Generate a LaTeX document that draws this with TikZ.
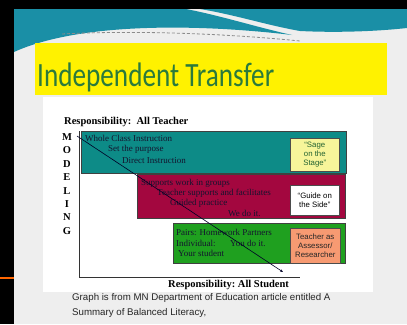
\documentclass[tikz,border=0pt]{standalone}
\usepackage{fontspec}
\setmainfont{Liberation Serif}
\setsansfont{Liberation Sans}
\newfontfamily\calibrifont{Carlito}
\usetikzlibrary{arrows.meta}

\definecolor{slidebg}{HTML}{EEEEEE}
\definecolor{header}{HTML}{1A8FA6}
\definecolor{titlegreen}{HTML}{2A7A3C}
\definecolor{tealbox}{HTML}{0D8B87}
\definecolor{maroonbox}{HTML}{A3073F}
\definecolor{greenbox}{HTML}{1FA01F}
\definecolor{sagebox}{HTML}{F7F59A}
\definecolor{salmonbox}{HTML}{F79A72}
\definecolor{inktext}{HTML}{14142E}

\tikzset{
  band/.style={draw=black!75, line width=0.7pt, anchor=north west, inner sep=0pt},
  rolebox/.style={draw=black!70, line width=0.6pt, anchor=north west, inner sep=0pt,
    font=\sffamily\fontsize{7.8}{9.2}\selectfont, align=center},
  bandtext/.style={anchor=west, inner sep=0pt, text=inktext,
    font=\fontsize{9}{9}\selectfont},
  axislabel/.style={inner sep=0pt, font=\bfseries\fontsize{10.5}{10.5}\selectfont},
  vletter/.style={inner sep=0pt, font=\bfseries\fontsize{10.5}{10.5}\selectfont},
  caption/.style={anchor=west, inner sep=0pt, text=black!85,
    font=\sffamily\fontsize{9.7}{9.7}\selectfont},
}

\begin{document}
\begin{tikzpicture}[x=1pt, y=-1pt]
\useasboundingbox (0,0) rectangle (407,324);
% screen background and slide
\fill[black] (0,0) rectangle (407,324);
\fill[slidebg] (14,9) rectangle (407,324);
\fill[white] (43,97) rectangle (373,292);
\draw[orange!80!red, line width=1.2pt] (0,278) -- (14,278);

% header waves
\fill[header] (14,9) -- (186,9) .. controls (222,16) and (256,27) .. (292,35)
  .. controls (200,24) and (80,22) .. (14,52) -- cycle;
\fill[header] (200,9) .. controls (236,15) and (266,25) .. (300,31)
  .. controls (340,33) and (380,31) .. (407,28) -- (407,9) -- cycle;
\draw[black!45, dash pattern=on 3pt off 2pt, line width=0.8pt]
  (62,34) .. controls (140,30) and (230,34) .. (300,41);

% title bar
\fill[yellow] (35,43) rectangle (387,95);
\node (title) [anchor=base west, inner sep=0pt, text=titlegreen,
  font=\calibrifont\fontsize{34}{34}\selectfont]
  at (37,86) {\scalebox{0.8}[1]{Independent Transfer}};

% responsibility bands
\node (whole) [band, fill=tealbox, minimum width=265pt, minimum height=42pt] at (81,131) {};
\node (group) [band, fill=maroonbox, minimum width=208pt, minimum height=44pt] at (137,174) {};
\node (indiv) [band, fill=greenbox, minimum width=172pt, minimum height=40pt] at (173,223) {};

% role boxes
\node (sage) [rolebox, fill=sagebox, text=titlegreen!80!black, minimum width=49pt, minimum height=33pt] at (290,138)
  {``Sage\\on the\\Stage''};
\node (guide) [rolebox, fill=white, text=black, minimum width=49pt, minimum height=30pt] at (290,185)
  {``Guide on\\the Side''};
\node (assess) [rolebox, fill=salmonbox, text=black!85, minimum width=50pt, minimum height=35pt] at (290,228)
  {Teacher as\\Assessor/\\Researcher};

% band texts
\node (w1) [bandtext] at (85,138) {Whole Class Instruction};
\node (w2) [bandtext] at (108,149) {Set the purpose};
\node (w3) [bandtext] at (122,161) {Direct Instruction};
\node (g1) [bandtext] at (141,183) {Supports work in groups};
\node (g2) [bandtext] at (157,193) {Teacher supports and facilitates};
\node (g3) [bandtext] at (170,203) {Guided practice};
\node (g4) [bandtext] at (228,213) {We do it.};
\node (i1) [bandtext] at (176,232) {Pairs: Homework Partners};
\node (i2) [bandtext] at (176,243) {Individual:};
\node (i3) [bandtext] at (230,243) {You do it.};
\node (i4) [bandtext] at (178,253) {Your student};

% axes
\coordinate (top) at (79,131);
\coordinate (origin) at (79,277);
\coordinate (xend) at (300,277);
\draw[black!80, line width=0.6pt] (top) -- (origin) -- (xend);

\node (tlabel) [axislabel, anchor=west] at (64,122) {Responsibility:\ \ All Teacher};
\node (slabel) [axislabel, anchor=west] at (168,285) {Responsibility:\ All Student};

% vertical MODELING label
\foreach \ch [count=\i from 0] in {M,O,D,E,L,I,N,G}
  \node (v\i) [vletter] at (67,137+13.4*\i) {\ch};

% release-of-responsibility diagonal
\coordinate (dstart) at (77,136);
\coordinate (dend) at (283,272);
\draw[black!85!blue, line width=0.6pt, -{Stealth[length=3pt,width=2.5pt]}] (dstart) -- (dend);

% source caption
\node (cap1) [caption] at (72,298) {Graph is from MN Department of Education article entitled A};
\node (cap2) [caption] at (72,313) {Summary of Balanced Literacy,};
\end{tikzpicture}
\end{document}
